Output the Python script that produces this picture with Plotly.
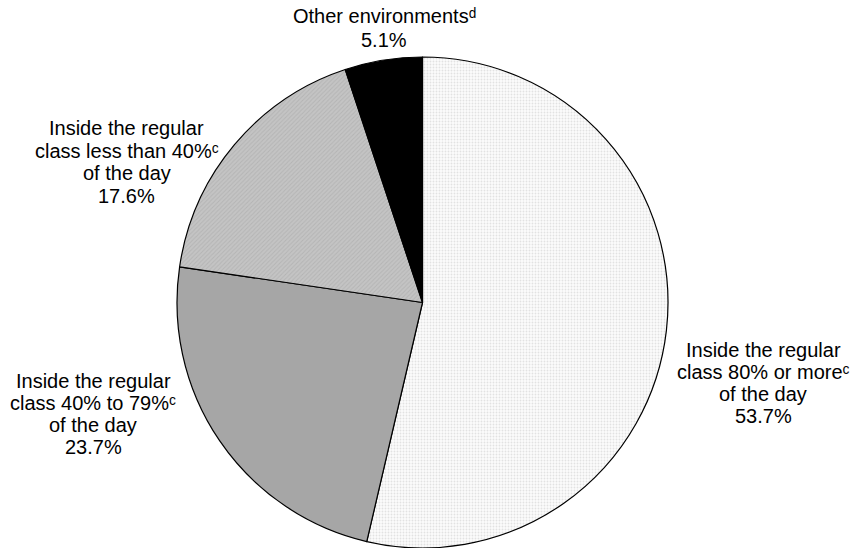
import plotly.graph_objects as go

# Percentage of students by educational environment
categories = [
    "Inside the regular class 80% or more of the day",
    "Inside the regular class 40% to 79% of the day",
    "Inside the regular class less than 40% of the day",
    "Other environments",
]
values = [53.7, 23.7, 17.6, 5.1]

# Text lines of each slice label (the percentage is appended from values);
# footnote marks use modifier letters so they stay inside the line box
label_lines = [
    ["Inside the regular", "class 80% or more\u1d9c", "of the day"],
    ["Inside the regular", "class 40% to 79%\u1d9c", "of the day"],
    ["Inside the regular", "class less than 40%\u1d9c", "of the day"],
    ["Other environments\u1d48"],
]

W, H = 852, 548
FONT = "Liberation Sans, Arial, DejaVu Sans, sans-serif"

fig = go.Figure(
    go.Pie(
        labels=categories,
        values=values,
        sort=False,
        direction="clockwise",
        rotation=0,
        textinfo="none",
        hoverinfo="skip",
        showlegend=False,
        marker=dict(
            colors=["#f7f7f7", "#a6a6a6", "#c2c2c2", "#000000"],
            line=dict(color="#000000", width=1.2),
            pattern=dict(
                shape=[".", "", "/", ""],
                fgcolor=["#e2e2e2", "#a6a6a6", "#b4b4b4", "#000000"],
                bgcolor=["#fcfcfc", "#a6a6a6", "#c4c4c4", "#000000"],
                size=[3, 4, 3, 4],
                solidity=[0.3, 0.3, 0.3, 0.3],
                fillmode="replace",
            ),
        ),
        domain=dict(x=[177 / W, 668 / W], y=[0, 491 / H]),
    )
)

# Label block placement: (center x, first line y, line step) in pixels
label_pos = [
    (763, 350, 22),
    (93, 381, 22),
    (127, 128, 22.5),
    (384, 16, 24),
]

annotations = []
for lines, v, (cx, y0, step) in zip(label_lines, values, label_pos):
    all_lines = lines + [f"{v:.1f}%"]
    for i, t in enumerate(all_lines):
        annotations.append(
            dict(
                text=t,
                x=cx / W,
                y=1 - (y0 + i * step) / H,
                xref="paper",
                yref="paper",
                xanchor="center",
                yanchor="middle",
                showarrow=False,
                font=dict(family=FONT, size=20, color="#000000"),
            )
        )

fig.update_layout(
    width=W,
    height=H,
    margin=dict(l=0, r=0, t=0, b=0),
    paper_bgcolor="#ffffff",
    plot_bgcolor="#ffffff",
    annotations=annotations,
)

fig.write_html("out.html")
